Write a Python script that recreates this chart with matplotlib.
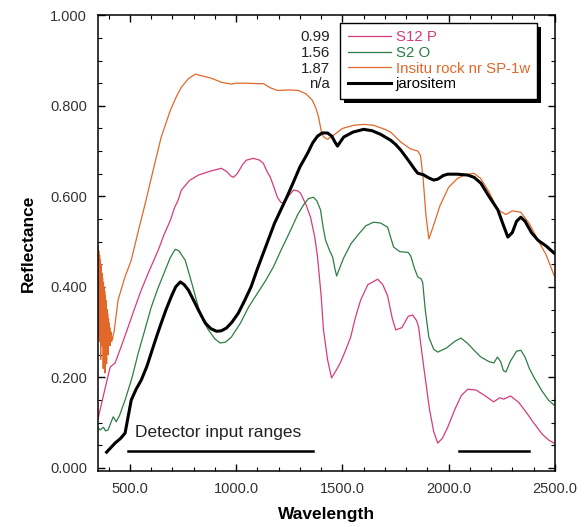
import matplotlib
matplotlib.use("Agg")
import matplotlib.pyplot as plt
from matplotlib.patches import Rectangle
from matplotlib.ticker import MultipleLocator, FormatStrFormatter

plt.rcParams['font.family'] = ['Liberation Sans', 'DejaVu Sans']

# S12 P
s12_x = [350, 370, 390, 407, 430, 460, 491, 520, 553, 590, 633, 660, 690, 710, 727, 742,
         780, 822, 880, 930, 955, 975, 987, 1005, 1030, 1048, 1081, 1110, 1128, 1145, 1161,
         1178, 1194, 1210, 1223, 1245, 1270, 1290, 1303, 1330, 1350, 1370, 1383, 1400, 1411,
         1430, 1449, 1470, 1492, 1515, 1539, 1560, 1586, 1620, 1666, 1690, 1713, 1735, 1751,
         1780, 1810, 1831, 1850, 1859, 1870, 1883, 1910, 1930, 1949, 1970, 1996, 2030, 2060,
         2090, 2130, 2170, 2212, 2240, 2260, 2292, 2330, 2370, 2400, 2440, 2470, 2496]
s12_y = [0.110, 0.150, 0.190, 0.223, 0.232, 0.270, 0.311, 0.350, 0.393, 0.435, 0.481, 0.515,
         0.547, 0.575, 0.592, 0.614, 0.635, 0.647, 0.656, 0.662, 0.655, 0.645, 0.642, 0.650,
         0.670, 0.680, 0.684, 0.680, 0.673, 0.655, 0.642, 0.620, 0.598, 0.587, 0.585, 0.600,
         0.614, 0.612, 0.607, 0.580, 0.554, 0.510, 0.466, 0.380, 0.305, 0.240, 0.199, 0.215,
         0.234, 0.260, 0.289, 0.330, 0.371, 0.405, 0.417, 0.405, 0.380, 0.330, 0.305, 0.310,
         0.335, 0.338, 0.325, 0.311, 0.270, 0.223, 0.130, 0.080, 0.055, 0.065, 0.090, 0.130,
         0.160, 0.174, 0.172, 0.160, 0.146, 0.155, 0.152, 0.159, 0.145, 0.120, 0.100, 0.075,
         0.062, 0.055]

# S2 O
s2_x = [350, 360, 375, 385, 397, 410, 421, 428, 435, 450, 477, 510, 539, 570, 600, 630, 666,
        690, 713, 730, 760, 790, 822, 845, 869, 900, 925, 950, 977, 1020, 1058, 1100, 1140,
        1175, 1215, 1256, 1290, 1317, 1340, 1364, 1380, 1397, 1410, 1421, 1440, 1454, 1465,
        1473, 1490, 1506, 1540, 1572, 1610, 1647, 1680, 1713, 1730, 1741, 1770, 1789, 1810,
        1822, 1840, 1855, 1870, 1878, 1890, 1907, 1930, 1949, 1990, 2030, 2058, 2090, 2120,
        2152, 2190, 2213, 2230, 2245, 2258, 2270, 2290, 2320, 2340, 2360, 2380, 2402, 2440,
        2470, 2496]
s2_y = [0.088, 0.084, 0.090, 0.082, 0.084, 0.100, 0.113, 0.108, 0.102, 0.115, 0.150, 0.200,
        0.254, 0.305, 0.355, 0.395, 0.437, 0.465, 0.483, 0.480, 0.459, 0.410, 0.355, 0.325,
        0.305, 0.285, 0.276, 0.278, 0.289, 0.320, 0.355, 0.386, 0.415, 0.444, 0.485, 0.525,
        0.560, 0.581, 0.595, 0.598, 0.590, 0.570, 0.530, 0.503, 0.480, 0.466, 0.440, 0.424,
        0.445, 0.464, 0.495, 0.514, 0.535, 0.543, 0.541, 0.532, 0.505, 0.488, 0.478, 0.477,
        0.476, 0.468, 0.440, 0.422, 0.418, 0.410, 0.350, 0.289, 0.262, 0.256, 0.265, 0.280,
        0.287, 0.275, 0.260, 0.245, 0.235, 0.232, 0.245, 0.235, 0.215, 0.212, 0.235, 0.258,
        0.260, 0.245, 0.220, 0.200, 0.170, 0.150, 0.139]

# Insitu rock nr SP-1w: noisy start at 1 nm steps, then the smooth part
rock_x = list(range(350, 420)) + [
    425, 444, 475, 506, 540, 576, 600, 647, 690, 720, 742, 775, 808, 840, 883, 930,
    977, 1000, 1043, 1100, 1128, 1160, 1194, 1250, 1293, 1330, 1359, 1375, 1388, 1400,
    1410, 1430, 1458, 1500, 1553, 1600, 1647, 1700, 1727, 1775, 1820, 1855, 1868, 1880,
    1893, 1907, 1925, 1960, 2000, 2043, 2080, 2119, 2150, 2190, 2232, 2270, 2300, 2340,
    2380, 2421, 2460, 2496]
rock_y = [
    0.30, 0.49, 0.29, 0.48, 0.31, 0.47, 0.28, 0.47, 0.30, 0.46,
    0.29, 0.45, 0.24, 0.45, 0.30, 0.44, 0.29, 0.43, 0.27, 0.43,
    0.30, 0.42, 0.29, 0.41, 0.22, 0.41, 0.30, 0.40, 0.28, 0.39,
    0.29, 0.39, 0.21, 0.38, 0.30, 0.37, 0.28, 0.37, 0.29, 0.36,
    0.23, 0.35, 0.30, 0.35, 0.28, 0.34, 0.29, 0.33, 0.25, 0.33,
    0.29, 0.32, 0.28, 0.31, 0.29, 0.31, 0.27, 0.30, 0.29, 0.30,
    0.28, 0.30, 0.29, 0.29, 0.28, 0.29, 0.285, 0.29, 0.285, 0.29,
    0.300, 0.371, 0.420, 0.459, 0.525, 0.592, 0.640, 0.731, 0.790, 0.822, 0.841, 0.860,
    0.870, 0.866, 0.861, 0.852, 0.848, 0.850, 0.850, 0.849, 0.849, 0.840, 0.834, 0.835,
    0.834, 0.826, 0.812, 0.795, 0.775, 0.745, 0.732, 0.726, 0.735, 0.750, 0.757, 0.759,
    0.757, 0.748, 0.742, 0.720, 0.705, 0.700, 0.690, 0.640, 0.560, 0.506, 0.530, 0.580,
    0.620, 0.640, 0.648, 0.651, 0.640, 0.610, 0.570, 0.560, 0.568, 0.565, 0.540, 0.503,
    0.470, 0.426]

# jarositem
jar_x = [390, 410, 430, 455, 477, 490, 506, 530, 553, 580, 600, 625, 647, 670, 694, 715, 737,
         755, 775, 800, 822, 840, 855, 880, 907, 930, 954, 980, 1010, 1040, 1070, 1100, 1140,
         1180, 1210, 1240, 1270, 1300, 1336, 1360, 1383, 1405, 1430, 1450, 1465, 1477, 1490,
         1506, 1550, 1600, 1640, 1680, 1727, 1750, 1775, 1810, 1840, 1855, 1880, 1910, 1930,
         1949, 1975, 1996, 2040, 2090, 2120, 2152, 2190, 2232, 2255, 2279, 2300, 2320, 2340,
         2360, 2390, 2421, 2460, 2496]
jar_y = [0.035, 0.045, 0.055, 0.065, 0.077, 0.110, 0.150, 0.175, 0.194, 0.225, 0.254, 0.290,
         0.320, 0.350, 0.378, 0.400, 0.411, 0.405, 0.393, 0.370, 0.349, 0.333, 0.320, 0.308,
         0.302, 0.303, 0.309, 0.322, 0.342, 0.370, 0.400, 0.440, 0.490, 0.540, 0.570, 0.600,
         0.632, 0.665, 0.695, 0.718, 0.733, 0.740, 0.740, 0.733, 0.720, 0.711, 0.720, 0.731,
         0.742, 0.748, 0.745, 0.737, 0.724, 0.715, 0.702, 0.680, 0.660, 0.651, 0.648, 0.640,
         0.636, 0.638, 0.646, 0.649, 0.649, 0.647, 0.642, 0.629, 0.600, 0.570, 0.540, 0.510,
         0.520, 0.545, 0.554, 0.545, 0.520, 0.503, 0.490, 0.475]

scale_values = ['0.99', '1.56', '1.87', 'n/a']
detector_ranges = [(490, 1360), (2050, 2380)]

fig = plt.figure(figsize=(5.84, 5.27), dpi=100)
ax = fig.add_axes([0.168, 0.106, 0.782, 0.865])

ax.plot(s12_x, s12_y, color='#d63c7c', lw=0.9, label='S12 P')
ax.plot(s2_x, s2_y, color='#2e7d46', lw=0.9, label='S2 O')
ax.plot(rock_x, rock_y, color='#e2682a', lw=0.9, label='Insitu rock nr SP-1w')
ax.plot(jar_x, jar_y, color='black', lw=2.2, label='jarositem')

for x0, x1 in detector_ranges:
    ax.plot([x0, x1], [0.037, 0.037], color='black', lw=1.8)
ax.text(525, 0.078, 'Detector input ranges', fontsize=12.5, va='center', color='#222222')

ax.set_xlim(350, 2500)
ax.set_ylim(-0.007, 1.0)
ax.xaxis.set_major_locator(MultipleLocator(500))
ax.xaxis.set_minor_locator(MultipleLocator(100))
ax.yaxis.set_major_locator(MultipleLocator(0.2))
ax.yaxis.set_minor_locator(MultipleLocator(0.05))
ax.xaxis.set_major_formatter(FormatStrFormatter('%.1f'))
ax.yaxis.set_major_formatter(FormatStrFormatter('%.3f'))
ax.tick_params(which='both', direction='in', top=True, right=True, labelsize=10.5,
               colors='black', labelcolor='#333333')
ax.tick_params(which='major', length=5, width=1)
ax.tick_params(which='minor', length=3, width=0.8)
ax.tick_params(axis='x', pad=8)
ax.tick_params(axis='y', pad=8)
for s in ax.spines.values():
    s.set_linewidth(1.1)

ax.set_xlabel('Wavelength', fontsize=12.5, fontweight='bold', labelpad=8)
ax.set_ylabel('Reflectance', fontsize=12.5, fontweight='bold', labelpad=10)

leg = ax.legend(loc='upper left', bbox_to_anchor=(0.530, 0.984), borderaxespad=0,
                fancybox=False, edgecolor='black', framealpha=1,
                fontsize=10.8, labelcolor='linecolor', handlelength=2.9,
                handletextpad=0.3, labelspacing=0.12, borderpad=0.5)
leg.get_frame().set_linewidth(1.0)

# solid black drop shadow, and the values lined up with the legend rows
fig.canvas.draw()
to_ax = ax.transAxes.inverted()
fb = leg.get_frame().get_window_extent()
(fx0, fy0), (fx1, fy1) = to_ax.transform([[fb.x0 + 4, fb.y0 - 4], [fb.x1 + 4, fb.y1 - 4]])
ax.add_patch(Rectangle((fx0, fy0), fx1 - fx0, fy1 - fy0, transform=ax.transAxes,
                       facecolor='black', edgecolor='none', zorder=4.9, clip_on=False))
for t, v in zip(leg.get_texts(), scale_values):
    tb = t.get_window_extent()
    _, ty = to_ax.transform([0, (tb.y0 + tb.y1) / 2])
    ax.text(0.508, ty, v, transform=ax.transAxes, ha='right', va='center',
            fontsize=10.8, color='#222222')

fig.savefig('out.png', dpi=100)
